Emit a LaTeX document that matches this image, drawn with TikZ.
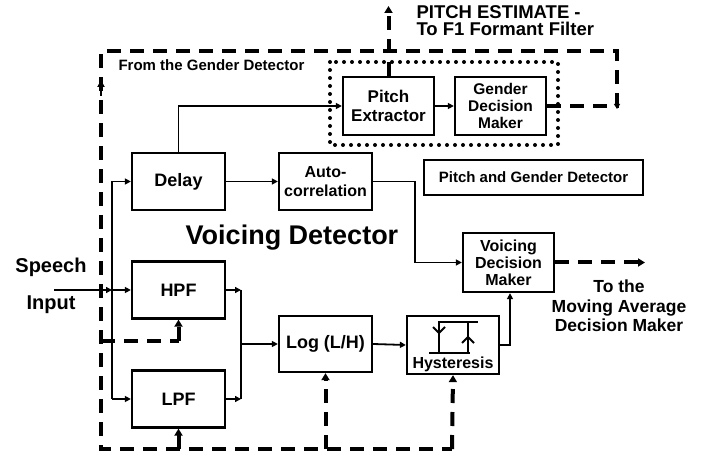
\documentclass[tikz,border=0pt]{standalone}
\usepackage{fontspec}
\setmainfont{Liberation Sans}
\usetikzlibrary{arrows.meta,calc}
\begin{document}
\begin{tikzpicture}[x=1pt,y=-1pt,
  font=\bfseries,
  blk/.style={draw,line width=2.3pt,inner sep=0pt,align=center},
  conn/.style={line width=1.8pt},
  arr/.style={conn,-{Triangle[length=6pt,width=6pt]}},
  dsh/.style={line width=4pt,dash pattern=on 14pt off 9pt},
  darr/.style={dsh,-{Triangle[length=7pt,width=8pt]}},
  fs/.style={font=\bfseries\fontsize{#1}{#1}\selectfont},
  fsl/.style 2 args={font=\bfseries\fontsize{#1}{#2}\selectfont}
]
\useasboundingbox (0,0) rectangle (716,457);
% blocks
\node[blk,minimum width=91pt,minimum height=58pt,fsl={17}{19}] (pe) at (388.5,106) {Pitch\\Extractor};
\node[blk,minimum width=91pt,minimum height=58pt,fsl={15.5}{17}] (gdm) at (500.5,106) {Gender\\Decision\\Maker};
\node[blk,minimum width=93pt,minimum height=57pt,fs=18] (delay) at (178.5,181.5) {Delay};
\node[blk,minimum width=93pt,minimum height=57pt,fsl={16}{19}] (auto) at (325.5,181.5) {Auto-\\correlation};
\node[blk,minimum width=219pt,minimum height=35pt,fs=15] (pgd) at (533.5,177.5) {Pitch and Gender Detector};
\node[blk,minimum width=91pt,minimum height=59pt,fsl={16}{17}] (vdm) at (508.5,262.5) {Voicing\\Decision\\Maker};
\node[blk,minimum width=92pt,minimum height=58pt] (hyst) at (453,345) {};
\node[fs=16] (hystl) at (453,364) {Hysteresis};
\node[blk,minimum width=93pt,minimum height=56pt,fs=18] (log) at (325.5,344) {Log (L/H)};
\node[blk,minimum width=93pt,minimum height=57pt,fs=18] (hpf) at (178.5,290) {HPF};
\node[blk,minimum width=93pt,minimum height=57pt,fs=18] (lpf) at (178.5,399) {LPF};
% dotted box
\draw[line width=4pt,dash pattern=on 0pt off 8pt,line cap=round] (330,62) rectangle (558,145);
% hysteresis symbol
\draw[line width=2.3pt] (439,353) -- (439,322) -- (478,322);
\draw[line width=2.3pt] (429,353) -- (470,353);
\draw[line width=2.3pt] (468,322) -- (468,353);
\draw[line width=2pt] (433,327) -- (439,333) -- (445,327);
\draw[line width=2pt] (462,343) -- (468,337) -- (474,343);
% texts
\node[fsl={18.5}{17},anchor=west,align=left] (pest) at (413,21) {PITCH ESTIMATE -\\To F1 Formant Filter};
\node[fs=15,anchor=west] (fgd) at (115,65) {From the Gender Detector};
\node[fs=27] (vd) at (292,238) {Voicing Detector};
\node[fs=20] (sp1) at (51,267) {Speech};
\node[fs=20] (sp2) at (51,305) {Input};
\node[align=center,fsl={17.5}{19.5}] (mad) at (619,306) {To the\\Moving Average\\Decision Maker};
% coordinates
\coordinate (spin) at (54,290);
\coordinate (jin) at (112,290);
\coordinate (jtop) at (112,181.5);
\coordinate (jbot) at (112,399);
\coordinate (ac) at (415,181.5);
\coordinate (h1) at (510,345);
\coordinate (m1) at (241,290);
\coordinate (m2) at (241,399);
\coordinate (m3) at (241,344);
\coordinate (vout) at (645,262.5);
\coordinate (r1) at (617,106);
\coordinate (r2) at (617,51);
\coordinate (l1) at (101,51);
\coordinate (l2) at (101,449);
\coordinate (b1) at (452,449);
\coordinate (b2) at (178.5,449);
\coordinate (b3) at (325.5,449);
\coordinate (hp1) at (101,341);
\coordinate (hp2) at (178.5,341);
\coordinate (ptop) at (388.5,6);
% solid connectors
\draw[arr] (delay.north) |- (pe.west);
\draw[arr] (pe.east) -- (gdm.west);
\draw[arr] (delay.east) -- (auto.west);
\draw[arr] (auto.east) -- (ac) |- (vdm.west);
\draw[arr] (hyst.east) -- (h1) -- (h1 |- vdm.south);
\draw[arr] (log.east) -- (hyst.west);
\draw[arr] (hpf.east) -- (m1);
\draw[arr] (lpf.east) -- (m2);
\draw[conn] (m1) -- (m2);
\draw[arr] (m3) -- (log.west);
\draw[arr] (spin) -- (jin);
\draw[arr] (jin) -- (hpf.west);
\draw[conn] (jtop) -- (jbot);
\draw[arr] (jtop) -- (delay.west);
\draw[arr] (jbot) -- (lpf.west);
% dashed connectors
\draw[dsh] (gdm.east) -- (r1) -- (r2) -- (l1) -- (l2) -- (b1);
\draw[darr] (b1) -- (hyst.south);
\draw[darr] (b2) -- (lpf.south);
\draw[darr] (b3) -- (log.south);
\draw[dsh] (hp1) -- (hp2);
\draw[darr] (hp2) -- (hpf.south);
\draw[darr] (pe.north) -- (ptop);
\draw[darr] (vdm.east) -- (vout);
\draw[conn,-{Triangle[length=7pt,width=7pt]}] (101,96) -- (101,80);
\draw[conn,-{Triangle[length=5pt,width=6pt]}] (617,98) -- (617,109);
\end{tikzpicture}
\end{document}
